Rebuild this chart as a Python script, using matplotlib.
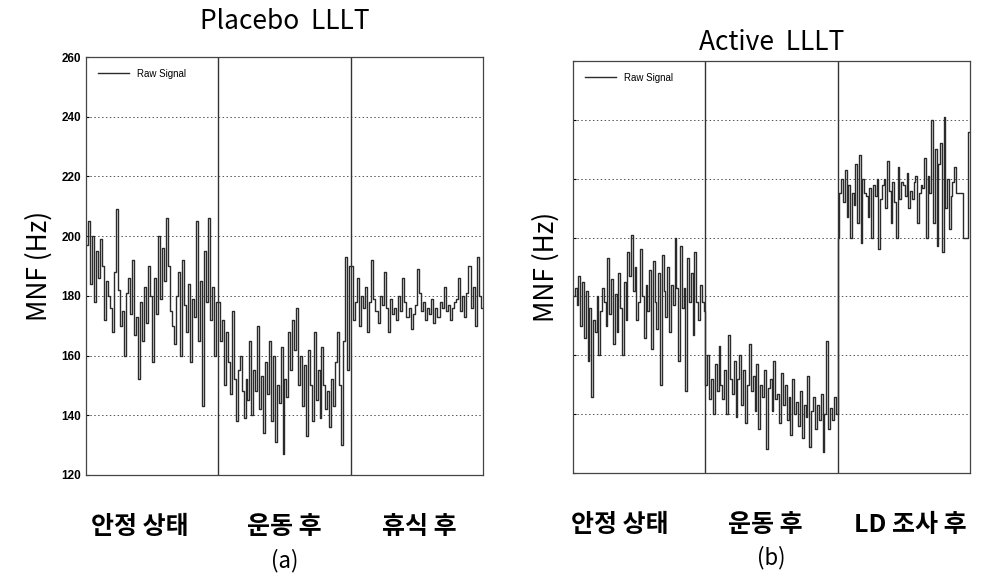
import numpy as np
import matplotlib.pyplot as plt

plt.rcParams['font.family'] = ['Noto Sans CJK KR', 'DejaVu Sans']

# MNF (Hz) raw signal, one list per phase
placebo_rest = [197, 205, 184, 200, 178, 195, 186, 199, 190, 172, 185, 180, 176, 168, 188, 209,
                182, 170, 175, 160, 181, 186, 174, 192, 167, 173, 152, 178, 165, 183, 171, 190,
                180, 158, 186, 174, 200, 179, 196, 185, 206, 190, 175, 170, 164, 180, 188, 160,
                192, 177, 168, 184, 158, 179, 173, 205, 165, 185, 143, 195, 178, 206, 172, 183,
                160, 178]
placebo_ex = [178, 165, 172, 150, 168, 158, 147, 175, 152, 138, 155, 160, 148, 139, 152, 145,
              165, 140, 155, 148, 170, 142, 153, 134, 158, 147, 165, 138, 160, 131, 150, 144,
              163, 127, 152, 146, 168, 155, 172, 162, 176, 150, 160, 143, 157, 133, 162, 150,
              138, 168, 145, 155, 139, 163, 150, 142, 148, 136, 152, 143, 158, 168, 150, 130,
              165, 193, 155, 190]
placebo_rec = [190, 172, 178, 186, 170, 180, 176, 183, 168, 178, 192, 179, 175, 171, 180, 177,
               188, 176, 168, 179, 174, 176, 172, 180, 175, 186, 178, 173, 176, 169, 174, 177,
               189, 181, 175, 178, 172, 176, 174, 179, 171, 176, 173, 178, 176, 183, 175, 177,
               172, 176, 178, 179, 186, 175, 180, 173, 181, 190, 176, 183, 170, 193, 180, 176]

active_rest = [180, 183, 177, 187, 170, 185, 166, 182, 158, 176, 146, 172, 168, 180, 160, 175,
               183, 178, 170, 193, 174, 186, 164, 181, 168, 188, 176, 160, 185, 172, 195, 187,
               201, 182, 190, 172, 178, 196, 180, 166, 184, 175, 189, 162, 192, 178, 169, 188,
               150, 194, 182, 173, 190, 168, 184, 177, 200, 183, 158, 197, 176, 183, 148, 193,
               178, 188, 167, 195, 178, 172, 184, 178, 175]
active_ex = [150, 160, 145, 152, 140, 157, 148, 163, 150, 145, 155, 140, 167, 152, 147, 158,
             139, 152, 160, 143, 155, 137, 150, 164, 148, 153, 141, 157, 135, 150, 146, 155,
             128, 149, 152, 141, 158, 145, 147, 137, 154, 143, 150, 138, 146, 133, 152, 140,
             144, 136, 148, 132, 143, 139, 153, 129, 141, 146, 135, 143, 138, 147, 127, 140,
             165, 135, 142, 138, 146, 140]
active_ld = [200, 215, 220, 212, 223, 207, 218, 200, 215, 211, 225, 205, 228, 198, 220, 215,
             214, 207, 217, 200, 218, 214, 220, 196, 213, 218, 220, 210, 226, 216, 205, 219,
             212, 200, 224, 213, 219, 218, 214, 222, 210, 216, 213, 219, 221, 205, 215, 218,
             217, 227, 200, 221, 215, 240, 205, 230, 197, 225, 232, 195, 241, 210, 220, 203,
             214, 219, 224, 215, 215, 215, 215, 200, 200, 200, 236]

placebo_labels = ['안정 상태', '운동 후', '휴식 후']
active_labels = ['안정 상태', '운동 후', 'LD 조사 후']
yticks = [120, 140, 160, 180, 200, 220, 240, 260]


def draw(ax, segments, labels, label_x, title, title_pad, tag, show_yticks):
    xs, ys = [], []
    for i, seg in enumerate(segments):
        n = len(seg)
        xs.append(i + (np.arange(n) + 0.5) / n)
        ys.append(np.array(seg, dtype=float))
    x = np.concatenate(xs)
    y = np.concatenate(ys)
    ax.plot(x, y, drawstyle='steps-mid', color='#2b2b2b', lw=1.0, label='Raw Signal')

    for b in (1, 2):
        ax.axvline(b, color='#333333', lw=1.0)
    ax.set_xlim(0, 3)
    ax.set_ylim(120, 260)
    ax.set_yticks(yticks)
    ax.set_xticks([])
    ax.yaxis.grid(True, ls=(0, (1.5, 2.5)), color='#555555', lw=0.7)
    ax.tick_params(axis='y', length=2, labelsize=8.5, direction='in')
    for lab in ax.get_yticklabels():
        lab.set_fontfamily('Liberation Sans')
        lab.set_fontweight('bold')
    if not show_yticks:
        ax.set_yticklabels([])
    for s in ax.spines.values():
        s.set_color('#444444')
        s.set_linewidth(0.9)

    ax.set_title(title, fontsize=19, pad=title_pad)
    ax.set_ylabel('MNF (Hz)', fontsize=19, labelpad=6)
    for lx, lab in zip(label_x, labels):
        ax.text(lx, -0.125, lab, transform=ax.get_xaxis_transform(), ha='center',
                va='center', fontsize=18, fontweight='bold')
    ax.text(1.5, -0.205, tag, transform=ax.get_xaxis_transform(), ha='center',
            va='center', fontsize=16)
    ax.legend(loc='upper left', frameon=False, handlelength=3.2,
              prop={'family': 'Liberation Sans', 'size': 7}, borderaxespad=0.8)


fig = plt.figure(figsize=(9.95, 5.77), dpi=100)
ax1 = fig.add_axes([0.0864, 0.1768, 0.399, 0.7244])
ax2 = fig.add_axes([0.5759, 0.1802, 0.399, 0.714])

draw(ax1, [placebo_rest, placebo_ex, placebo_rec], placebo_labels, [0.41, 1.50, 2.52],
     'Placebo  LLLT', 20, '(a)', True)
draw(ax2, [active_rest, active_ex, active_ld], active_labels, [0.35, 1.45, 2.55],
     'Active  LLLT', 8, '(b)', False)

fig.savefig('out.png', dpi=100)
